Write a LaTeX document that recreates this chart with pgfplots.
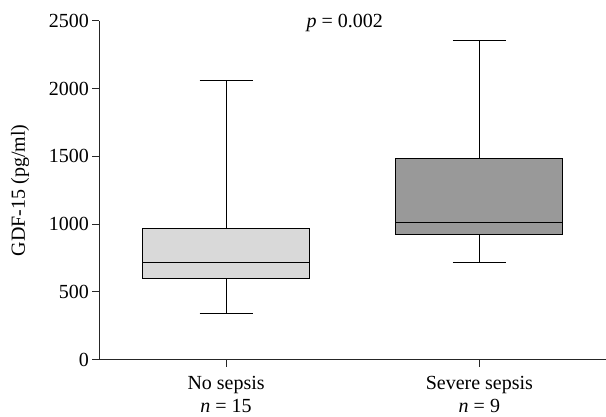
\documentclass[border=0pt]{standalone}
\usepackage{fontspec}
\setmainfont{Liberation Serif}
\usepackage{pgfplots}
\usepgfplotslibrary{statistics}
\pgfplotsset{compat=1.18}
\definecolor{boxlight}{HTML}{D9D9D9}
\definecolor{boxdark}{HTML}{999999}
\newcommand{\lblfont}{\fontsize{20}{23.5}\selectfont}
\begin{document}
\begin{tikzpicture}
\begin{axis}[
  scale only axis,
  width=506.5pt, height=339pt,
  xmin=0.5, xmax=2.5,
  ymin=0, ymax=2500,
  axis x line=bottom, axis y line=left,
  axis line style={-, line width=0.9pt, black!85},
  tick align=outside,
  major tick length=7pt,
  tick style={line width=0.9pt, black!85},
  xtick={1,2},
  xticklabels={{No sepsis\\\textit{n} = 15},{Severe sepsis\\\textit{n} = 9}},
  xticklabel style={align=center, font=\lblfont, yshift=-6pt},
  ytick={0,500,1000,1500,2000,2500},
  yticklabel style={font=\lblfont, /pgf/number format/1000 sep={}},
  /pgf/number format/assume math mode=true,
  scaled y ticks=false,
  ylabel={GDF-15 (pg/ml)},
  every axis y label/.style={at={(axis description cs:0,0.5)},
    xshift=-79.5pt, rotate=90, anchor=center, font=\lblfont},
  boxplot/draw direction=y,
]
\addplot[boxplot prepared={
    lower whisker=337, lower quartile=597, median=715,
    upper quartile=965, upper whisker=2057, draw position=1,
    box extend=0.66, whisker extend=0.21},
  draw=black, line width=1pt, fill=boxlight]
  coordinates {};
\addplot[boxplot prepared={
    lower whisker=715, lower quartile=920, median=1013,
    upper quartile=1487, upper whisker=2352, draw position=2,
    box extend=0.66, whisker extend=0.21},
  draw=black, line width=1pt, fill=boxdark]
  coordinates {};
\end{axis}
\node[font=\lblfont] at (245.2pt,337.2pt) {\textit{p} = 0.002};
\pgfresetboundingbox
\path (-99.5pt,-57.3pt) rectangle (506.5pt,359.7pt);
\end{tikzpicture}
\end{document}
